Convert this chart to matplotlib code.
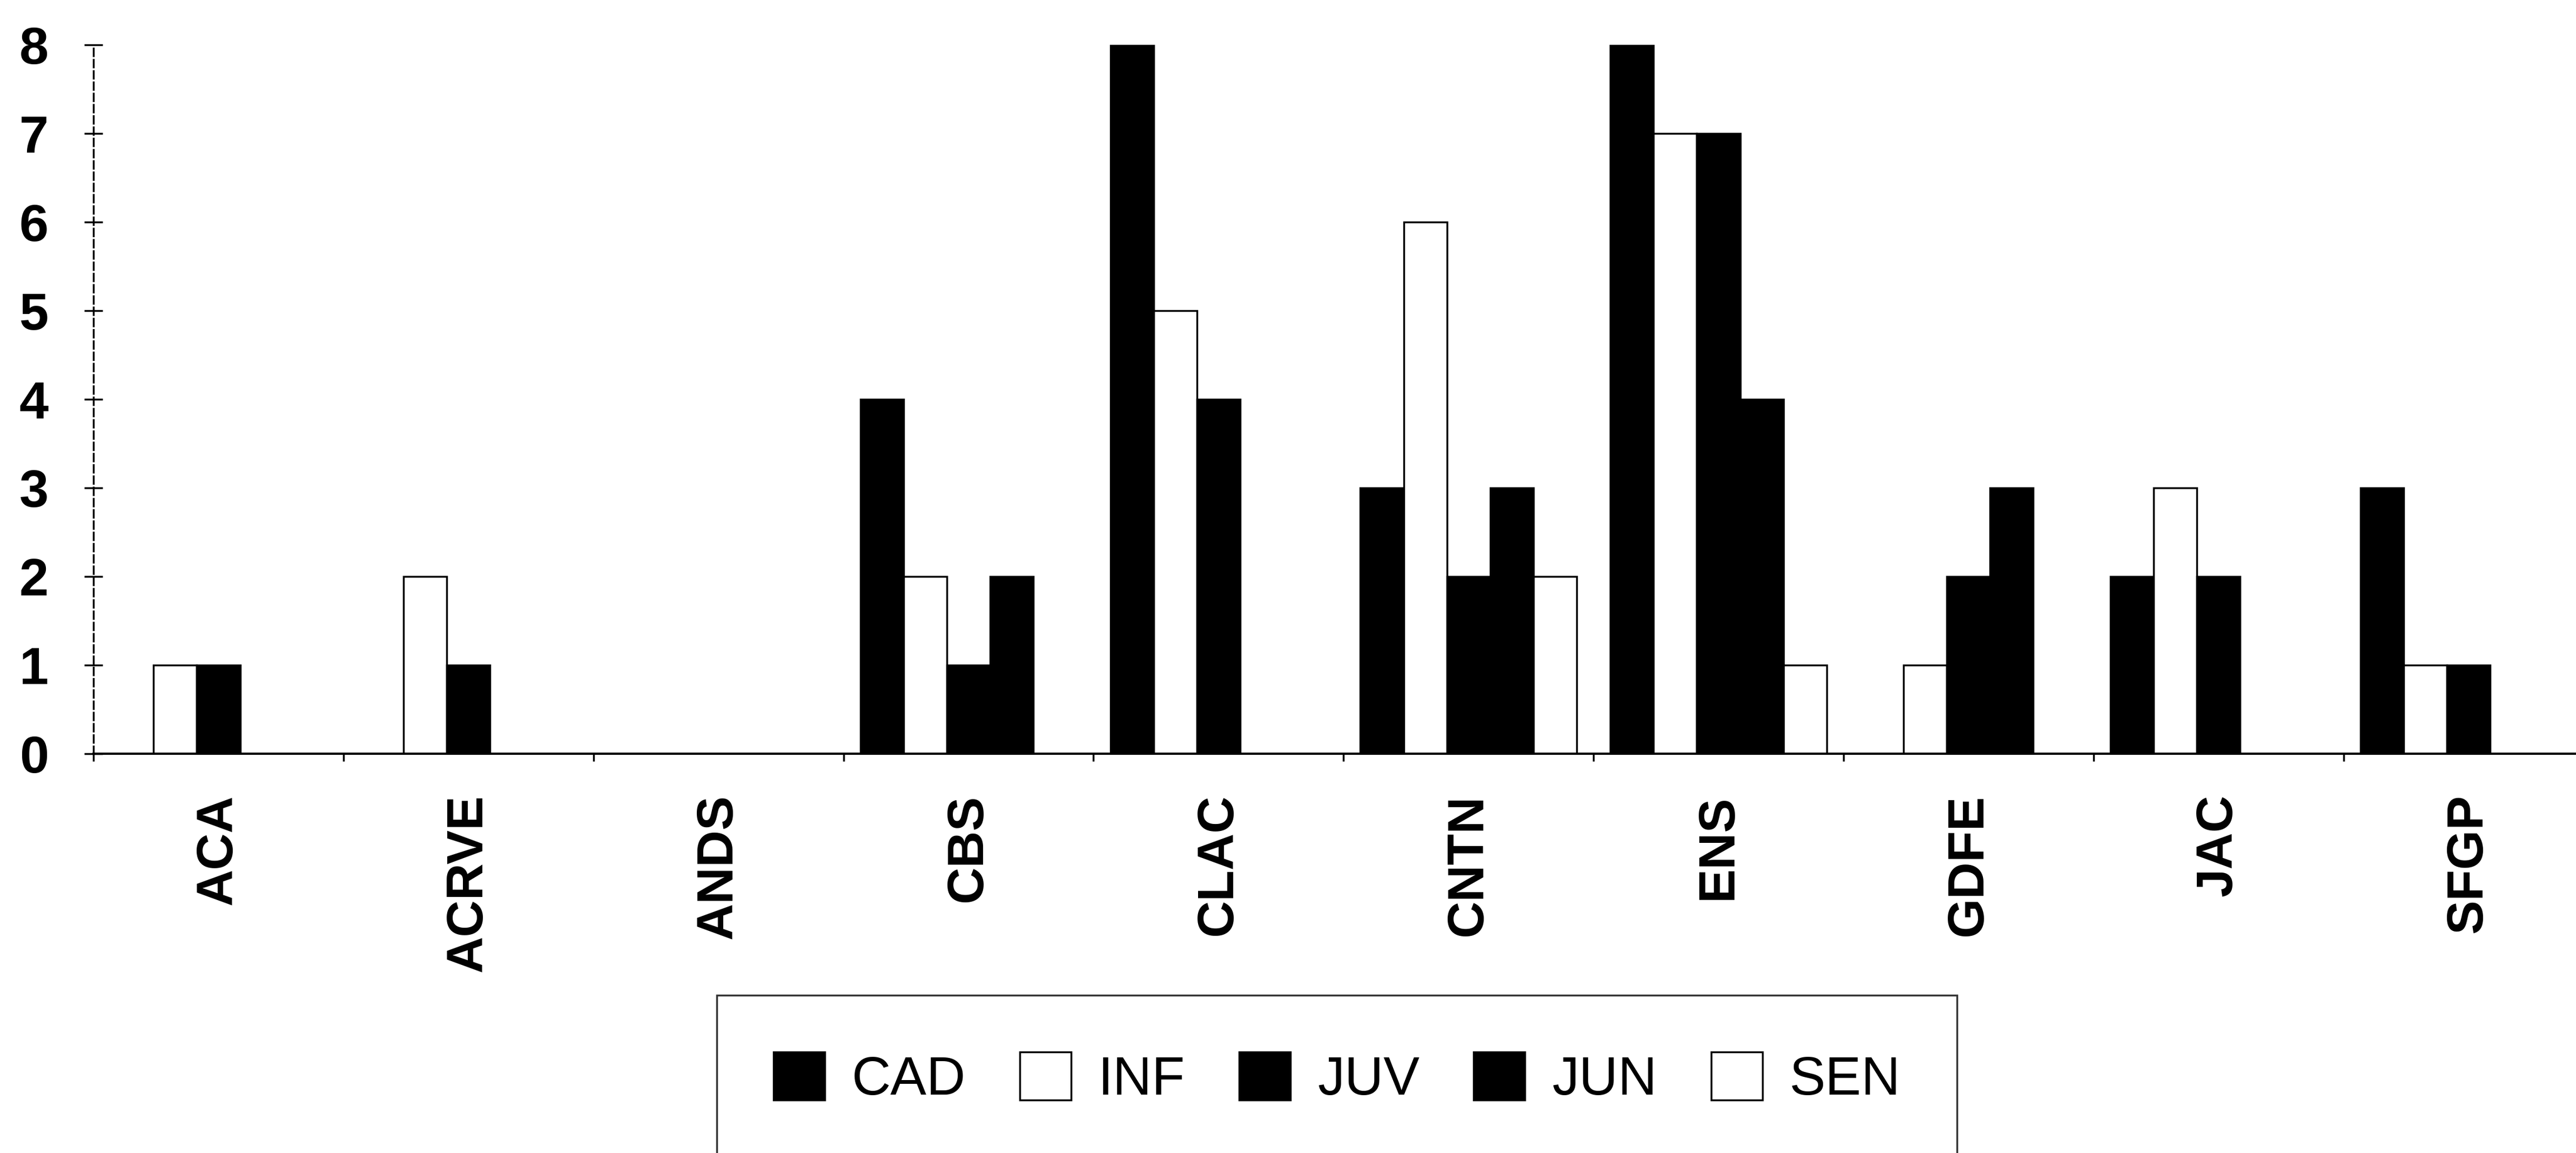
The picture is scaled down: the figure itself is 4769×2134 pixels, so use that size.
import matplotlib
matplotlib.use('Agg')
import matplotlib.pyplot as plt
import numpy as np

plt.rcParams['font.family'] = ['Liberation Sans', 'DejaVu Sans']

# data
sites = ['ACA', 'ACRVE', 'ANDS', 'CBS', 'CLAC', 'CNTN', 'ENS', 'GDFE', 'JAC', 'SFGP']
cad = [0, 0, 0, 4, 8, 3, 8, 0, 2, 3]
inf = [1, 2, 0, 2, 5, 6, 7, 1, 3, 1]
juv = [1, 1, 0, 1, 4, 2, 7, 2, 2, 1]
jun = [0, 0, 0, 2, 0, 3, 4, 3, 0, 0]
sen = [0, 0, 0, 0, 0, 2, 1, 0, 0, 0]
y_ticks = [0, 1, 2, 3, 4, 5, 6, 7, 8]

series = [('CAD', cad, 'black'), ('INF', inf, 'white'), ('JUV', juv, 'black'),
          ('JUN', jun, 'black'), ('SEN', sen, 'white')]

fig = plt.figure(figsize=(47.69, 21.34), dpi=100)
ax = fig.add_axes([0.0363, 0.3463, 0.9637, 0.6148])

x = np.arange(len(sites))
w = 0.173
for i, (name, vals, col) in enumerate(series):
    ax.bar(x + (i - 2) * w, vals, w, color=col, edgecolor='black',
           linewidth=2.5, label=name)

ax.set_xlim(-0.5, 9.43)
ax.set_ylim(0, 8)

ax.spines['top'].set_visible(False)
ax.spines['right'].set_visible(False)
ax.spines['bottom'].set_linewidth(3)
ax.spines['left'].set_linewidth(2.5)
ax.spines['left'].set_linestyle((0, (4, 2)))

ax.set_yticks(y_ticks)
ax.set_yticklabels([str(v) for v in y_ticks], fontsize=70, fontweight='bold')
ax.tick_params(axis='y', direction='inout', length=24, width=2.5, pad=48)

ax.set_xticks(x)
ax.set_xticklabels(sites, rotation=90, fontsize=68, fontweight='bold', va='top')
ax.tick_params(axis='x', which='major', length=0, pad=54)
ax.set_xticks(np.arange(-0.5, 9.5, 1), minor=True)
ax.tick_params(axis='x', which='minor', direction='out', length=10, width=2.5)

# legend box runs off the bottom edge like in the scan
leg = fig.legend(loc='upper center', bbox_to_anchor=(0.519, 0.137), ncol=5,
                 fontsize=72, frameon=True, fancybox=False, edgecolor='black',
                 borderpad=1.05, borderaxespad=0, handlelength=0.95,
                 handleheight=1.0, handletextpad=0.5, columnspacing=1.0)
leg.get_frame().set_linewidth(2.5)

fig.savefig('out.png', dpi=100, facecolor='white')
